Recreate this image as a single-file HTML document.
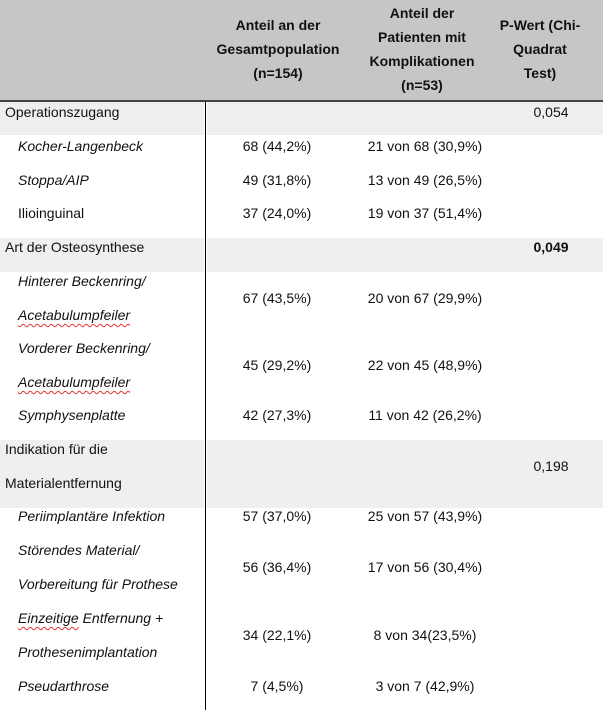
<!DOCTYPE html>
<html><head><meta charset="utf-8"><style>
body{margin:0;width:603px;height:710px;position:relative;background:#fff;font-family:"Liberation Sans",Arial,sans-serif;font-size:14px;color:#111;overflow:hidden}
.a{position:absolute;white-space:nowrap;line-height:16px}
.c{transform:translateX(-50%);text-align:center}
.b{font-weight:bold}
.i{font-style:italic}
.u{text-decoration:underline wavy #d33;text-decoration-thickness:1px;text-underline-offset:3px}
.g{position:absolute;background:#efefef}
</style></head><body>
<div style="position:absolute;left:0;top:0;width:603px;height:100px;background:#c6c6c6"></div>
<div style="position:absolute;left:0;top:100px;width:603px;height:2px;background:#444"></div>
<div class="g" style="left:0;top:102px;width:204px;height:33px"></div>
<div class="g" style="left:207px;top:102px;width:396px;height:33px"></div>
<div class="g" style="left:0;top:238px;width:204px;height:34px"></div>
<div class="g" style="left:207px;top:238px;width:396px;height:34px"></div>
<div class="g" style="left:0;top:440px;width:204px;height:68px"></div>
<div class="g" style="left:207px;top:440px;width:396px;height:68px"></div>
<div style="position:absolute;left:205px;top:102px;width:1px;height:608px;background:#000"></div>

<div class="a c b" style="left:278px;top:13px;line-height:24px">Anteil an der<br>Gesamtpopulation<br>(n=154)</div>
<div class="a c b" style="left:422px;top:1px;line-height:24px">Anteil der<br>Patienten mit<br>Komplikationen<br>(n=53)</div>
<div class="a c b" style="left:540px;top:13px;line-height:24px">P-Wert (Chi-<br>Quadrat<br>Test)</div>

<div class="a" style="left:5px;top:104px">Operationszugang</div>
<div class="a c" style="left:551px;top:104px">0,054</div>
<div class="a i" style="left:18px;top:138px">Kocher-Langenbeck</div>
<div class="a c" style="left:277px;top:138px">68 (44,2%)</div>
<div class="a c" style="left:425px;top:138px">21 von 68 (30,9%)</div>
<div class="a i" style="left:18px;top:172px">Stoppa/AIP</div>
<div class="a c" style="left:277px;top:172px">49 (31,8%)</div>
<div class="a c" style="left:425px;top:172px">13 von 49 (26,5%)</div>
<div class="a" style="left:18px;top:205px">Ilioinguinal</div>
<div class="a c" style="left:277px;top:205px">37 (24,0%)</div>
<div class="a c" style="left:425px;top:205px">19 von 37 (51,4%)</div>

<div class="a" style="left:5px;top:239px">Art der Osteosynthese</div>
<div class="a c b" style="left:551px;top:239px">0,049</div>
<div class="a i" style="left:18px;top:273px">Hinterer Beckenring/</div>
<div class="a i" style="left:18px;top:307px"><span class="u">Acetabulumpfeiler</span></div>
<div class="a c" style="left:277px;top:290px">67 (43,5%)</div>
<div class="a c" style="left:425px;top:290px">20 von 67 (29,9%)</div>
<div class="a i" style="left:18px;top:340px">Vorderer Beckenring/</div>
<div class="a i" style="left:18px;top:374px"><span class="u">Acetabulumpfeiler</span></div>
<div class="a c" style="left:277px;top:357px">45 (29,2%)</div>
<div class="a c" style="left:425px;top:357px">22 von 45 (48,9%)</div>
<div class="a i" style="left:18px;top:407px">Symphysenplatte</div>
<div class="a c" style="left:277px;top:407px">42 (27,3%)</div>
<div class="a c" style="left:425px;top:407px">11 von 42 (26,2%)</div>

<div class="a" style="left:5px;top:441px">Indikation für die</div>
<div class="a" style="left:5px;top:475px">Materialentfernung</div>
<div class="a c" style="left:551px;top:458px">0,198</div>
<div class="a i" style="left:18px;top:508px">Periimplantäre Infektion</div>
<div class="a c" style="left:277px;top:508px">57 (37,0%)</div>
<div class="a c" style="left:425px;top:508px">25 von 57 (43,9%)</div>
<div class="a i" style="left:18px;top:542px">Störendes Material/</div>
<div class="a i" style="left:18px;top:576px">Vorbereitung für Prothese</div>
<div class="a c" style="left:277px;top:559px">56 (36,4%)</div>
<div class="a c" style="left:425px;top:559px">17 von 56 (30,4%)</div>
<div class="a i" style="left:18px;top:610px"><span class="u">Einzeitige</span> Entfernung +</div>
<div class="a i" style="left:18px;top:644px">Prothesenimplantation</div>
<div class="a c" style="left:277px;top:627px">34 (22,1%)</div>
<div class="a c" style="left:425px;top:627px">8 von 34(23,5%)</div>
<div class="a i" style="left:18px;top:678px">Pseudarthrose</div>
<div class="a c" style="left:277px;top:678px">7 (4,5%)</div>
<div class="a c" style="left:425px;top:678px">3 von 7 (42,9%)</div>
</body></html>
